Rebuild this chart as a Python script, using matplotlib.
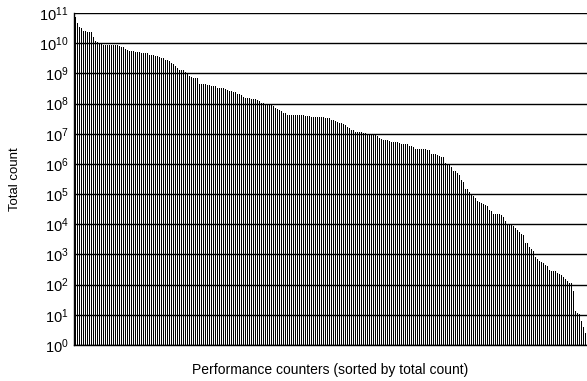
import matplotlib
matplotlib.use("Agg")
import matplotlib.pyplot as plt
import numpy as np
from matplotlib.ticker import LogLocator, LogFormatterSciNotation, NullLocator

plt.rcParams['font.family'] = ['Liberation Sans', 'DejaVu Sans']

# log10 of the total count of each performance counter (sorted descending)
log10_counts = [
    10.86, 10.68, 10.55, 10.49, 10.41, 10.40, 10.38, 10.38, 10.38, 10.22,
    10.08, 10.04, 10.00, 9.99, 9.95, 9.94, 9.94, 9.94, 9.94, 9.94,
    9.94, 9.93, 9.91, 9.86, 9.86, 9.82, 9.78, 9.73, 9.73, 9.73,
    9.71, 9.71, 9.71, 9.69, 9.69, 9.69, 9.67, 9.60, 9.60, 9.60,
    9.58, 9.56, 9.54, 9.52, 9.52, 9.45, 9.43, 9.41, 9.34, 9.30,
    9.23, 9.17, 9.12, 9.10, 9.10, 9.06, 8.97, 8.92, 8.88, 8.84,
    8.84, 8.84, 8.66, 8.66, 8.64, 8.64, 8.61, 8.61, 8.59, 8.57,
    8.57, 8.53, 8.53, 8.53, 8.51, 8.48, 8.44, 8.42, 8.40, 8.37,
    8.37, 8.33, 8.31, 8.27, 8.22, 8.19, 8.18, 8.18, 8.16, 8.14,
    8.14, 8.12, 8.10, 8.03, 8.03, 8.00, 8.00, 7.99, 7.97, 7.92,
    7.85, 7.81, 7.79, 7.74, 7.70, 7.68, 7.63, 7.63, 7.63, 7.63,
    7.61, 7.61, 7.61, 7.61, 7.61, 7.59, 7.59, 7.59, 7.56, 7.56,
    7.56, 7.56, 7.56, 7.55, 7.54, 7.53, 7.52, 7.51, 7.47, 7.44,
    7.42, 7.39, 7.36, 7.36, 7.33, 7.29, 7.22, 7.18, 7.13, 7.11,
    7.07, 7.07, 7.05, 7.05, 7.02, 7.02, 7.00, 7.00, 7.00, 6.96,
    6.96, 6.91, 6.87, 6.83, 6.80, 6.80, 6.78, 6.76, 6.74, 6.72,
    6.72, 6.72, 6.69, 6.67, 6.65, 6.65, 6.65, 6.60, 6.59, 6.55,
    6.48, 6.48, 6.48, 6.48, 6.48, 6.48, 6.46, 6.46, 6.33, 6.33,
    6.33, 6.31, 6.26, 6.24, 6.22, 6.04, 6.00, 5.96, 5.91, 5.78,
    5.76, 5.69, 5.62, 5.47, 5.40, 5.16, 5.16, 5.07, 4.98, 4.94,
    4.87, 4.78, 4.74, 4.71, 4.67, 4.65, 4.61, 4.47, 4.43, 4.34,
    4.34, 4.34, 4.34, 4.30, 4.25, 4.10, 4.02, 4.00, 4.00, 3.94,
    3.88, 3.81, 3.75, 3.68, 3.66, 3.39, 3.37, 3.26, 3.19, 3.13,
    2.93, 2.84, 2.79, 2.75, 2.71, 2.66, 2.62, 2.49, 2.46, 2.46,
    2.44, 2.38, 2.35, 2.33, 2.26, 2.18, 2.11, 2.06, 2.06, 1.78,
    1.12, 1.07, 1.03, 0.80, 0.60, 0.40,
]
counts = 10.0 ** np.array(log10_counts)

x_label = "Performance counters (sorted by total count)"
y_label = "Total count"

fig = plt.figure(figsize=(5.87, 3.81), dpi=100)
ax = fig.add_axes([74 / 587, 1 - 345 / 381, 1 - 74 / 587, (345 - 13) / 381])

idx = np.arange(len(counts))
ax.bar(idx, counts - 1, bottom=1, width=0.5, color='black', linewidth=0,
       antialiased=False, zorder=3)

ax.set_yscale('log')
ax.set_ylim(1, 1e11)
ax.set_xlim(-0.75, -0.75 + 513 / 2)

ax.yaxis.set_major_locator(LogLocator(base=10, numticks=20))
ax.yaxis.set_major_formatter(LogFormatterSciNotation())
ax.yaxis.set_minor_locator(NullLocator())
ax.xaxis.set_major_locator(NullLocator())
ax.grid(axis='y', which='major', color='black', linewidth=1.0, zorder=1)
ax.set_axisbelow(True)

ax.tick_params(axis='y', length=0, labelsize=10.5, pad=4, colors='black')
for s in ['top', 'right']:
    ax.spines[s].set_visible(False)
ax.spines['left'].set_linewidth(1.0)
ax.spines['bottom'].set_linewidth(1.0)

ax.set_xlabel(x_label, fontsize=10, labelpad=13)
ax.set_ylabel(y_label, fontsize=9.5, labelpad=13)

fig.savefig("out.png", dpi=100)
